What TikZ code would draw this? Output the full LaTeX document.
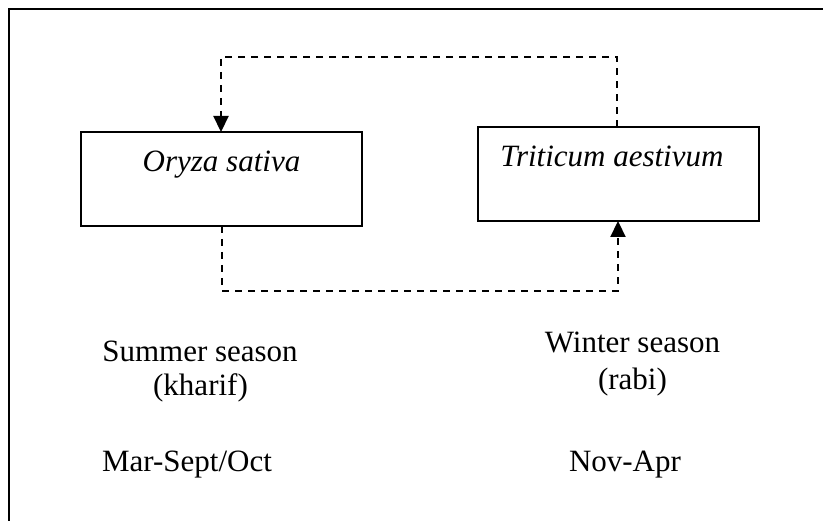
\documentclass[tikz,border=0pt]{standalone}
\usepackage{fontspec}
\setmainfont{Liberation Serif}
\usetikzlibrary{arrows.meta}
\begin{document}
\begin{tikzpicture}[x=1pt,y=-1pt,
  frame/.style={line width=2.2pt},
  cropbox/.style={draw,line width=2pt,minimum width=281pt,minimum height=94pt,inner sep=0pt},
  lbl/.style={font=\fontsize{31}{37}\selectfont,inner sep=0pt,anchor=base},
  flow/.style={line width=2.2pt,dash pattern=on 7pt off 6pt},
  tip/.style={-{Triangle[length=16pt,width=15pt]}}]
\useasboundingbox (0,0) rectangle (823,521);
% frame (only top and left sides visible)
\coordinate (fl) at (9,521);
\coordinate (fc) at (9,9);
\coordinate (fr) at (823,9);
\draw[frame] (fl) -- (fc) -- (fr);
% boxes
\node[cropbox] (rice) at (221.5,179) {};
\node[cropbox] (wheat) at (618,174) {};
\node[lbl] (ricet) at (221.5,172) {\itshape Oryza sativa};
\node[lbl] (wheatt) at (612,167) {\itshape Triticum aestivum};
% dashed connectors
\coordinate (wtop) at (617,127);
\coordinate (rtop) at (221,132);
\coordinate (rbot) at (222,226);
\coordinate (wbot) at (618,221);
\draw[flow,tip] (wtop) -- (617,57) -- (221,57) -- (rtop);
\draw[flow,tip] (rbot) -- (222,291) -- (618,291) -- (wbot);
% season labels
\node[lbl] (s1) at (200,362) {Summer season};
\node[lbl] (s2) at (200.5,396) {(kharif)};
\node[lbl] (s3) at (187,472) {Mar-Sept/Oct};
\node[lbl] (w1) at (632.5,353) {Winter season};
\node[lbl] (w2) at (632.5,390) {(rabi)};
\node[lbl] (w3) at (625,472) {Nov-Apr};
\end{tikzpicture}
\end{document}
